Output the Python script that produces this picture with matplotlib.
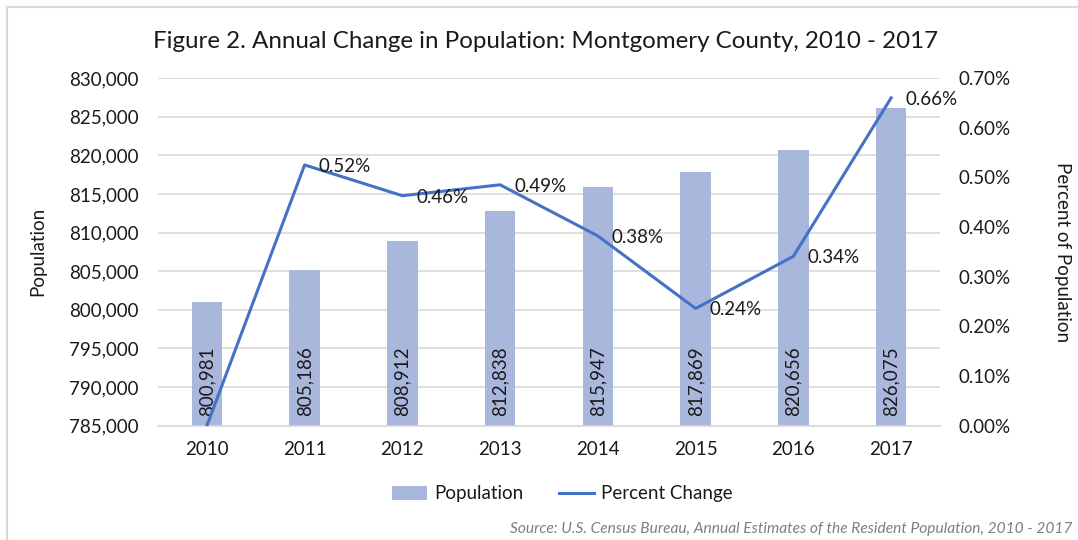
import matplotlib
matplotlib.use("Agg")
import matplotlib.pyplot as plt
from matplotlib.lines import Line2D
from matplotlib.patches import Patch
from matplotlib.ticker import FuncFormatter, MultipleLocator

years = ["2010", "2011", "2012", "2013", "2014", "2015", "2016", "2017"]
population = [800981, 805186, 808912, 812838, 815947, 817869, 820656, 826075]
pct_change = [0.0, 0.525, 0.463, 0.485, 0.382, 0.236, 0.341, 0.660]
pct_labels = ["", "0.52%", "0.46%", "0.49%", "0.38%", "0.24%", "0.34%", "0.66%"]

FONT = ["Lato", "DejaVu Sans"]
plt.rcParams["font.family"] = FONT
BAR_C = "#A9B7DC"
LINE_C = "#4472C4"
GRID_C = "#D9D9D9"
TXT = "#1A1A1A"
FS = 13.5

W, H = 1078, 540
fig = plt.figure(figsize=(W / 100, H / 100), dpi=100)

# frame lines (top and left)
fig.add_artist(Line2D([7 / W, 7 / W], [0, 1 - 7 / H], transform=fig.transFigure, color=GRID_C, lw=1.5))
fig.add_artist(Line2D([7 / W, 1], [1 - 7 / H, 1 - 7 / H], transform=fig.transFigure, color=GRID_C, lw=1.5))

left, right, top, bottom = 158, 940, 78, 425.7
ax = fig.add_axes([left / W, 1 - bottom / H, (right - left) / W, (bottom - top) / H])
ax2 = ax.twinx()
ax.set_zorder(1)
ax2.set_zorder(2)
ax.patch.set_visible(False)
ax2.patch.set_visible(False)

x = list(range(len(years)))
ax.bar(x, population, width=0.31, color=BAR_C, zorder=2)
ax.set_ylim(785000, 830000)
ax.set_xlim(-0.5, len(years) - 0.5)
ax.yaxis.set_major_locator(MultipleLocator(5000))
ax.yaxis.set_major_formatter(FuncFormatter(lambda v, p: f"{int(v):,}"))
ax.grid(axis="y", color=GRID_C, lw=1.2, zorder=0)
ax.set_axisbelow(True)
for s in ["top", "right", "left"]:
    ax.spines[s].set_visible(False)
ax.spines["bottom"].set_color(GRID_C)
ax.spines["bottom"].set_linewidth(1.2)
ax.set_xticks(x)
ax.set_xticklabels(years)
ax.tick_params(axis="both", length=0, labelsize=FS, colors=TXT)
ax.tick_params(axis="x", pad=11)
ax.tick_params(axis="y", pad=14)

for xi, v in zip(x, population):
    ax.annotate(f"{v:,}", (xi, 785000), xytext=(0, 7), textcoords="offset points",
                rotation=90, ha="center", va="bottom", fontsize=FS, color=TXT, zorder=3)

ax2.plot(x, pct_change, color=LINE_C, lw=2.2, zorder=3)
ax2.set_ylim(0, 0.70)
ax2.yaxis.set_major_locator(MultipleLocator(0.10))
ax2.yaxis.set_major_formatter(FuncFormatter(lambda v, p: f"{v:.2f}%"))
for s in ["top", "right", "left", "bottom"]:
    ax2.spines[s].set_visible(False)
ax2.tick_params(axis="y", length=0, labelsize=FS, colors=TXT, pad=13)

for xi, v, lab in zip(x, pct_change, pct_labels):
    if lab:
        ax2.annotate(lab, (xi, v), xytext=(10, -1), textcoords="offset points",
                     ha="left", va="center", fontsize=FS, color=TXT)

ax.set_ylabel("Population", fontsize=FS, color=TXT, labelpad=16)
ax2.set_ylabel("Percent of Population", fontsize=FS, color=TXT, rotation=270, labelpad=44)

fig.text(546 / W, 1 - 42 / H, "Figure 2. Annual Change in Population: Montgomery County, 2010 - 2017",
         ha="center", va="center", fontsize=17.4, color=TXT)

handles = [Patch(facecolor=BAR_C, edgecolor="none"), Line2D([0], [0], color=LINE_C, lw=2.2)]
fig.legend(handles, ["Population", "Percent Change"], loc="center", bbox_to_anchor=(562 / W, 1 - 494 / H),
           ncol=2, frameon=False, fontsize=FS, handlelength=1.9, handleheight=0.75, handletextpad=0.35,
           columnspacing=1.9, labelcolor=TXT)

fig.text(1072 / W, 1 - 529 / H, "Source: U.S. Census Bureau, Annual Estimates of the Resident Population, 2010 - 2017",
         ha="right", va="center", fontsize=11.2, style="italic", color="#7F7F7F")

fig.savefig("out.png", dpi=100)
